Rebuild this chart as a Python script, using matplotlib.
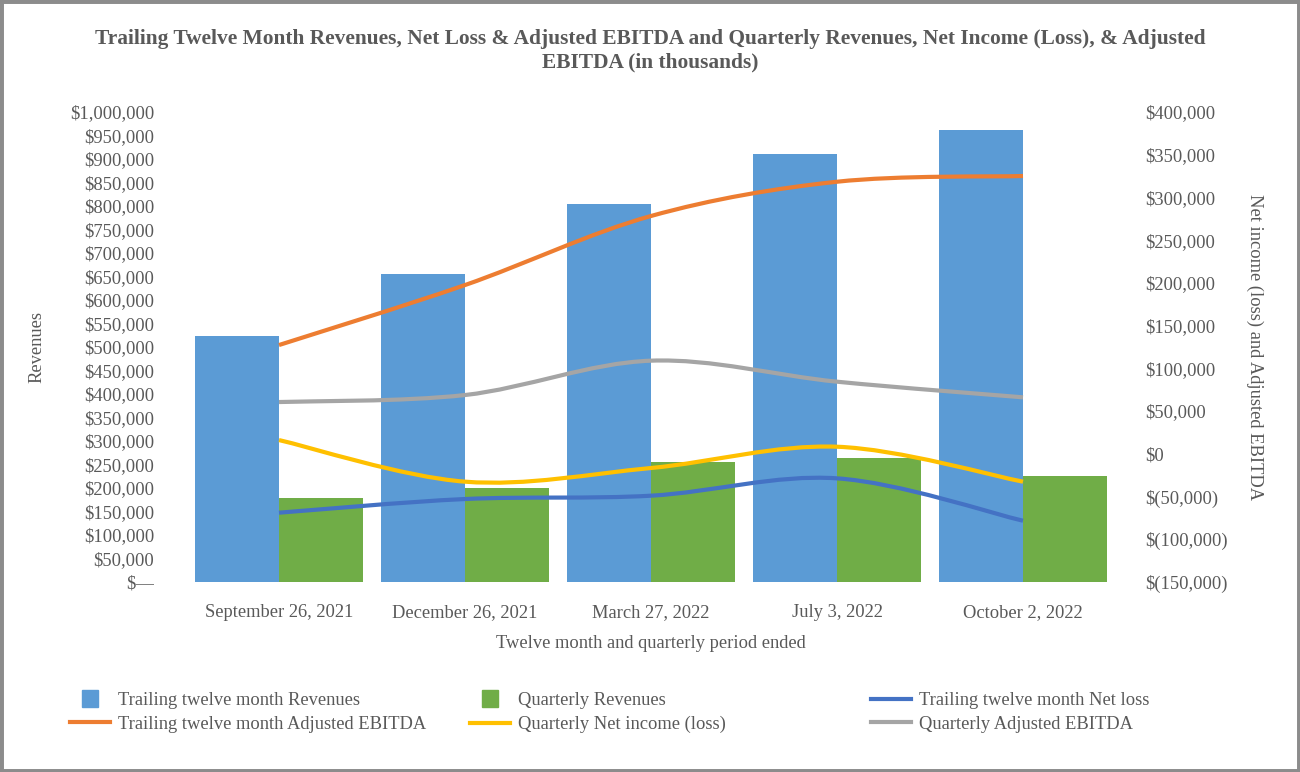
import matplotlib
matplotlib.use('Agg')
import matplotlib.pyplot as plt
import matplotlib.patches as mpatches
from matplotlib.path import Path
from matplotlib.lines import Line2D
from matplotlib.legend_handler import HandlerPatch
from matplotlib.ticker import FuncFormatter, MultipleLocator
import numpy as np

# data (in thousands)
periods = ['September 26, 2021', 'December 26, 2021', 'March 27, 2022', 'July 3, 2022', 'October 2, 2022']
ttm_revenues = [523400, 655300, 804300, 910600, 961700]
q_revenues = [178700, 200000, 255300, 263800, 225500]
ttm_net_loss = [-68900, -52900, -49000, -28700, -78300]
ttm_adj_ebitda = [127300, 197500, 278300, 318400, 325100]
q_net_income = [16100, -32600, -16600, 8300, -32600]
q_adj_ebitda = [60600, 68800, 109000, 84400, 66100]

c_ttm_rev = '#5B9BD5'
c_q_rev = '#70AD47'
c_net_loss = '#4472C4'
c_ttm_ebitda = '#ED7D31'
c_q_net = '#FFC000'
c_q_ebitda = '#A5A5A5'
txt = '#595959'

plt.rcParams['font.family'] = ['Liberation Serif', 'DejaVu Serif']
fs = 13.3

fig = plt.figure(figsize=(13, 7.72), dpi=100)
ax = fig.add_axes([186/1300, 1-582/772, 930/1300, 470/772])
ax2 = ax.twinx()

x = np.arange(len(periods))
w = 0.45
ax.bar(x - w/2, ttm_revenues, w, color=c_ttm_rev, zorder=2)
ax.bar(x + w/2, q_revenues, w, color=c_q_rev, zorder=2)


def smooth_path(xs, ys):
    # excel-like smoothed line: bezier through the points
    pts = list(zip(xs, ys))
    n = len(pts)
    verts = [pts[0]]
    codes = [Path.MOVETO]
    for i in range(n-1):
        p0 = pts[i-1] if i > 0 else pts[i]
        p1 = pts[i]
        p2 = pts[i+1]
        p3 = pts[i+2] if i+2 < n else pts[i+1]
        c1 = (p1[0] + (p2[0]-p0[0])/6, p1[1] + (p2[1]-p0[1])/6)
        c2 = (p2[0] - (p3[0]-p1[0])/6, p2[1] - (p3[1]-p1[1])/6)
        verts += [c1, c2, p2]
        codes += [Path.CURVE4]*3
    return Path(verts, codes)


lines = [(ttm_net_loss, c_net_loss), (ttm_adj_ebitda, c_ttm_ebitda),
         (q_net_income, c_q_net), (q_adj_ebitda, c_q_ebitda)]
for vals, col in lines:
    ax2.add_patch(mpatches.PathPatch(smooth_path(x, vals), fill=False, edgecolor=col,
                                     lw=3, capstyle='butt', zorder=3))

ax.set_xlim(-0.5, len(periods)-0.5)
ax.set_ylim(0, 1000000)
ax2.set_ylim(-150000, 400000)
ax.yaxis.set_major_locator(MultipleLocator(50000))
ax2.yaxis.set_major_locator(MultipleLocator(50000))


def left_fmt(v, pos):
    if v == 0:
        return '$\u2014'
    return '${:,.0f}'.format(v)


def right_fmt(v, pos):
    if v < 0:
        return '$({:,.0f})'.format(-v)
    return '${:,.0f}'.format(v)


ax.yaxis.set_major_formatter(FuncFormatter(left_fmt))
ax2.yaxis.set_major_formatter(FuncFormatter(right_fmt))
ax.set_xticks(x)
ax.set_xticklabels(periods)

for a in (ax, ax2):
    for s in a.spines.values():
        s.set_visible(False)
    a.tick_params(length=0, labelsize=fs, colors=txt)
ax.tick_params(axis='y', pad=23)
ax2.tick_params(axis='y', pad=21)
ax.tick_params(axis='x', pad=16)

ax.set_xlabel('Twelve month and quarterly period ended', fontsize=fs, color=txt, labelpad=10)
ax.set_ylabel('Revenues', fontsize=fs, color=txt)
ax.yaxis.set_label_coords((45-186)/930, 0.5)
ax2.set_ylabel('Net income (loss) and Adjusted EBITDA', fontsize=fs, color=txt, rotation=-90, va='center')
ax2.yaxis.set_label_coords((1255-186)/930, 0.5)

fig.text(0.5, 1-51/772, 'Trailing Twelve Month Revenues, Net Loss & Adjusted EBITDA and Quarterly Revenues, Net Income (Loss), & Adjusted\nEBITDA (in thousands)',
         ha='center', va='center', fontsize=15.4, fontweight='bold', color=txt, linespacing=1.25)


def square_patch(legend, orig_handle, xdescent, ydescent, width, height, fontsize):
    s = 0.9*fontsize
    return mpatches.Rectangle((-xdescent + width/2 - s/2, -ydescent + height/2 - s/2), s, s)


h_ttm_rev = mpatches.Patch(color=c_ttm_rev)
h_q_rev = mpatches.Patch(color=c_q_rev)
h_net_loss = Line2D([], [], color=c_net_loss, lw=3)
h_ttm_ebitda = Line2D([], [], color=c_ttm_ebitda, lw=3)
h_q_net = Line2D([], [], color=c_q_net, lw=3)
h_q_ebitda = Line2D([], [], color=c_q_ebitda, lw=3)

cols = [
    (70, [h_ttm_rev, h_ttm_ebitda], ['Trailing twelve month Revenues', 'Trailing twelve month Adjusted EBITDA']),
    (470, [h_q_rev, h_q_net], ['Quarterly Revenues', 'Quarterly Net income (loss)']),
    (871, [h_net_loss, h_q_ebitda], ['Trailing twelve month Net loss', 'Quarterly Adjusted EBITDA']),
]
for px, hs, labs in cols:
    leg = fig.legend(hs, labs, loc='upper left', bbox_to_anchor=(px/1300, 1-692/772),
                     frameon=False, fontsize=fs, handlelength=2.16, handletextpad=0.43,
                     borderpad=0, borderaxespad=0, labelspacing=0.37,
                     handler_map={mpatches.Patch: HandlerPatch(patch_func=square_patch)})
    for t in leg.get_texts():
        t.set_color(txt)

fig.patches.append(mpatches.Rectangle((0, 0), 1, 1, transform=fig.transFigure, fill=False,
                                      edgecolor='#8C8C8C', lw=5))

fig.savefig('out.png', dpi=100)
